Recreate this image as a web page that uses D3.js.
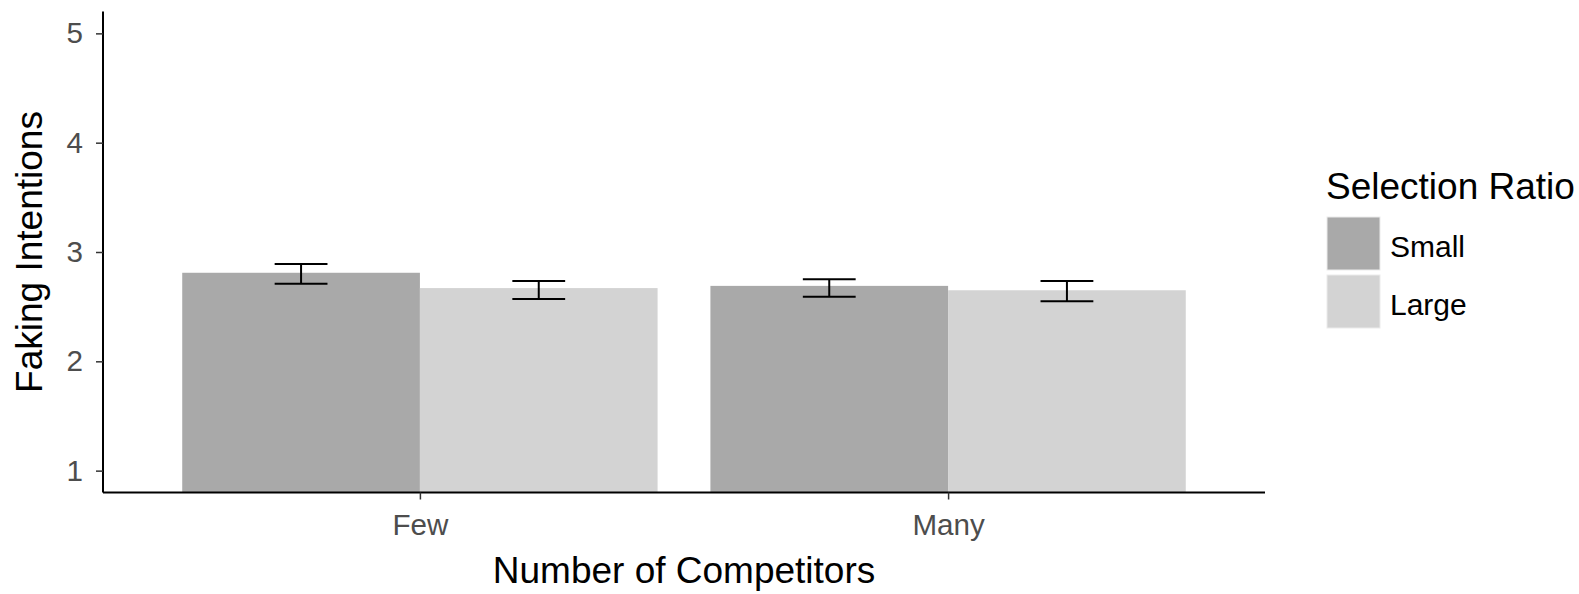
<!DOCTYPE html>
<html>
<head>
<meta charset="utf-8">
<script src="https://cdn.jsdelivr.net/npm/d3@7"></script>
<style>
  html, body { margin: 0; padding: 0; background: #fff; }
  svg { display: block; font-family: "Liberation Sans", Arial, sans-serif; }
</style>
</head>
<body>
<svg id="chart" width="1579" height="594"></svg>
<script>
// Group means and error bar bounds for faking intentions
const competitors = ["Few", "Many"];
const ratios = ["Small", "Large"];
const meanSmall = [2.81, 2.69];
const meanLarge = [2.67, 2.65];
const lowSmall = [2.71, 2.59];
const highSmall = [2.89, 2.75];
const lowLarge = [2.57, 2.55];
const highLarge = [2.735, 2.735];
const yTicks = [1, 2, 3, 4, 5];
const fillColors = ["#A9A9A9", "#D3D3D3"];

const rows = [];
competitors.forEach((c, i) => {
  rows.push({ comp: c, ratio: "Small", mean: meanSmall[i], lo: lowSmall[i], hi: highSmall[i] });
  rows.push({ comp: c, ratio: "Large", mean: meanLarge[i], lo: lowLarge[i], hi: highLarge[i] });
});

const svg = d3.select("#chart");
const panel = { left: 103, right: 1265, top: 11.5, bottom: 492.5 };

// Discrete x positions with 0.6 units of padding on each side
const unit = (panel.right - panel.left) / 2.2;
const x = d3.scalePoint()
  .domain(competitors)
  .range([panel.left + 0.6 * unit, panel.right - 0.6 * unit]);
// dodged bars: total width 0.9 units per category
const dodge = d3.scaleBand().domain(ratios).range([-0.45 * unit, 0.45 * unit]);
const color = d3.scaleOrdinal().domain(ratios).range(fillColors);

const y = d3.scaleLinear().domain([0.8, 5.2]).range([panel.bottom, panel.top]);

// bars
svg.append("g").selectAll("rect")
  .data(rows)
  .join("rect")
  .attr("x", d => x(d.comp) + dodge(d.ratio))
  .attr("width", dodge.bandwidth())
  .attr("y", d => y(d.mean))
  .attr("height", d => y(0.8) - y(d.mean))
  .attr("fill", d => color(d.ratio));

// error bars
const capHalf = 0.05 * unit;
const eb = svg.append("g").attr("stroke", "#000").attr("stroke-width", 2).attr("fill", "none");
rows.forEach(d => {
  const cx = x(d.comp) + dodge(d.ratio) + dodge.bandwidth() / 2;
  eb.append("line").attr("x1", cx).attr("x2", cx).attr("y1", y(d.lo)).attr("y2", y(d.hi));
  eb.append("line").attr("x1", cx - capHalf).attr("x2", cx + capHalf).attr("y1", y(d.lo)).attr("y2", y(d.lo));
  eb.append("line").attr("x1", cx - capHalf).attr("x2", cx + capHalf).attr("y1", y(d.hi)).attr("y2", y(d.hi));
});

// y axis
const yAxis = svg.append("g")
  .attr("transform", `translate(${panel.left},0)`)
  .call(d3.axisLeft(y).tickValues(yTicks).tickSize(7).tickPadding(13).tickFormat(d3.format("d")));
yAxis.select(".domain").attr("stroke", "#000").attr("stroke-width", 2)
  .attr("d", `M0,${panel.top}V${panel.bottom}`);
yAxis.selectAll(".tick line").attr("stroke", "#333").attr("stroke-width", 1.5);
yAxis.selectAll(".tick text").attr("fill", "#4D4D4D").style("font-size", "29.6px");

// x axis
const xAxis = svg.append("g")
  .attr("transform", `translate(0,${panel.bottom})`)
  .call(d3.axisBottom(x).tickSize(7).tickPadding(14));
xAxis.select(".domain").attr("stroke", "#000").attr("stroke-width", 2)
  .attr("d", `M${panel.left},0H${panel.right}`);
xAxis.selectAll(".tick line").attr("stroke", "#333").attr("stroke-width", 1.5);
xAxis.selectAll(".tick text").attr("fill", "#4D4D4D").style("font-size", "29.6px");

// axis titles
svg.append("text")
  .attr("x", (panel.left + panel.right) / 2)
  .attr("y", 583)
  .attr("text-anchor", "middle")
  .style("font-size", "37px")
  .attr("fill", "#000")
  .text("Number of Competitors");

svg.append("text")
  .attr("transform", `translate(41.5,${(panel.top + panel.bottom) / 2}) rotate(-90)`)
  .attr("text-anchor", "middle")
  .style("font-size", "37px")
  .attr("fill", "#000")
  .text("Faking Intentions");

// legend
const legend = svg.append("g").attr("transform", "translate(1326,0)");
legend.append("text")
  .attr("x", 0).attr("y", 199)
  .style("font-size", "37px")
  .text("Selection Ratio");
ratios.forEach((r, i) => {
  const top = 217 + i * 58;
  legend.append("rect")
    .attr("x", 1).attr("y", top).attr("width", 53).attr("height", 53)
    .attr("fill", color(r))
    .attr("stroke", "#EBEBEB").attr("stroke-width", 1);
  legend.append("text")
    .attr("x", 64).attr("y", top + 40)
    .style("font-size", "30px")
    .text(r);
});
</script>
</body>
</html>
